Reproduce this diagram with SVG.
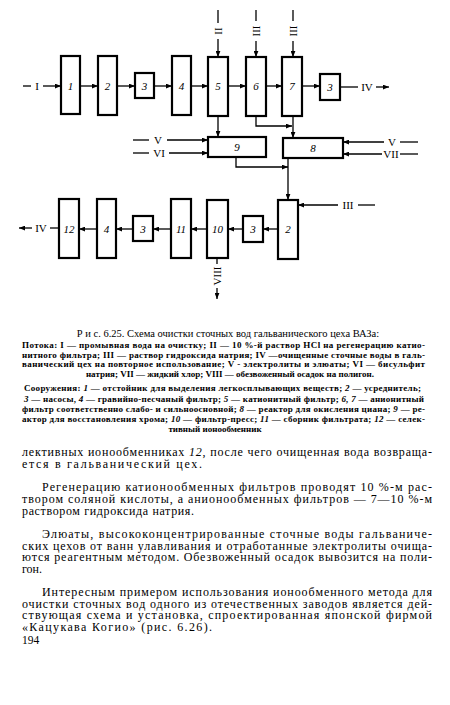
<svg xmlns="http://www.w3.org/2000/svg" width="450" height="705" viewBox="0 0 450 705">
<style>
.box{fill:#fff;stroke:#000;stroke-width:2.2}
.ln{fill:none;stroke:#000;stroke-width:1.3}
.num{font-family:"Liberation Serif",serif;font-style:italic;font-size:11px;text-anchor:middle;dominant-baseline:central}
.rom{font-family:"Liberation Serif",serif;font-size:11px;text-anchor:middle;dominant-baseline:central}
.cap{font-family:"Liberation Serif",serif;font-size:9px;font-weight:bold}
.body{font-family:"Liberation Serif",serif;font-size:12px}
.it{font-style:italic}
</style>
<defs>
<marker id="ar" viewBox="0 0 10 8" refX="10" refY="4" markerWidth="6" markerHeight="5" markerUnits="userSpaceOnUse" orient="auto">
<path d="M0,0 L10,4 L0,8 Z" fill="#000"/>
</marker>
</defs>
<rect width="450" height="705" fill="#fff"/>

<g id="connectors">
<line class="ln" x1="23" y1="86" x2="31" y2="86"/>
<text class="rom" x="37" y="86">I</text>
<line class="ln" x1="43" y1="86" x2="61" y2="86" marker-end="url(#ar)"/>
<line class="ln" x1="80" y1="86" x2="98" y2="86" marker-end="url(#ar)"/>
<line class="ln" x1="117" y1="86" x2="135" y2="86" marker-end="url(#ar)"/>
<line class="ln" x1="154" y1="86" x2="172" y2="86" marker-end="url(#ar)"/>
<line class="ln" x1="191" y1="86" x2="208" y2="86" marker-end="url(#ar)"/>
<line class="ln" x1="228" y1="86" x2="246" y2="86" marker-end="url(#ar)"/>
<line class="ln" x1="266" y1="86" x2="282" y2="86" marker-end="url(#ar)"/>
<line class="ln" x1="302" y1="86" x2="320" y2="86" marker-end="url(#ar)"/>
<line class="ln" x1="340" y1="87" x2="358" y2="87"/>
<text class="rom" x="367" y="87">IV</text>
<line class="ln" x1="376" y1="87" x2="389" y2="87" marker-end="url(#ar)"/>
<line class="ln" x1="218" y1="10" x2="218" y2="23"/>
<text class="rom" transform="translate(218,31) rotate(-90)">II</text>
<line class="ln" x1="218" y1="39" x2="218" y2="57" marker-end="url(#ar)"/>
<line class="ln" x1="256" y1="10" x2="256" y2="21"/>
<text class="rom" transform="translate(256,31) rotate(-90)">III</text>
<line class="ln" x1="256" y1="41" x2="256" y2="57" marker-end="url(#ar)"/>
<line class="ln" x1="293" y1="10" x2="293" y2="21"/>
<text class="rom" transform="translate(293,31) rotate(-90)">III</text>
<line class="ln" x1="293" y1="41" x2="293" y2="57" marker-end="url(#ar)"/>
<line class="ln" x1="218" y1="116" x2="218" y2="137" marker-end="url(#ar)"/>
<polyline class="ln" points="256,116 256,126 292,126" marker-end="url(#ar)"/>
<line class="ln" x1="293" y1="116" x2="293" y2="138" marker-end="url(#ar)"/>
<line class="ln" x1="133" y1="140" x2="149" y2="140"/>
<text class="rom" x="158" y="140">V</text>
<line class="ln" x1="167" y1="140" x2="208" y2="140" marker-end="url(#ar)"/>
<line class="ln" x1="133" y1="153" x2="149" y2="153"/>
<text class="rom" x="159" y="153">VI</text>
<line class="ln" x1="169" y1="153" x2="208" y2="153" marker-end="url(#ar)"/>
<line class="ln" x1="400" y1="142" x2="418" y2="142"/>
<text class="rom" x="392" y="142">V</text>
<line class="ln" x1="384" y1="142" x2="343" y2="142" marker-end="url(#ar)"/>
<line class="ln" x1="400" y1="154" x2="418" y2="154"/>
<text class="rom" x="391" y="154">VII</text>
<line class="ln" x1="382" y1="154" x2="343" y2="154" marker-end="url(#ar)"/>
<polyline class="ln" points="236,157 236,167 288,167" marker-end="url(#ar)"/>
<line class="ln" x1="288" y1="158" x2="288" y2="200" marker-end="url(#ar)"/>
<line class="ln" x1="358" y1="205" x2="375" y2="205"/>
<text class="rom" x="348" y="205">III</text>
<line class="ln" x1="338" y1="205" x2="298" y2="205" marker-end="url(#ar)"/>
<line class="ln" x1="278" y1="229" x2="263" y2="229" marker-end="url(#ar)"/>
<line class="ln" x1="243" y1="229" x2="228" y2="229" marker-end="url(#ar)"/>
<line class="ln" x1="207" y1="229" x2="191" y2="229" marker-end="url(#ar)"/>
<line class="ln" x1="171" y1="229" x2="153" y2="229" marker-end="url(#ar)"/>
<line class="ln" x1="133" y1="229" x2="116" y2="229" marker-end="url(#ar)"/>
<line class="ln" x1="97" y1="229" x2="79" y2="229" marker-end="url(#ar)"/>
<line class="ln" x1="59" y1="228" x2="50" y2="228"/>
<text class="rom" x="41" y="228">IV</text>
<line class="ln" x1="32" y1="228" x2="19" y2="228" marker-end="url(#ar)"/>
<line class="ln" x1="217" y1="258" x2="217" y2="264"/>
<text class="rom" transform="translate(217,276) rotate(-90)">VIII</text>
<line class="ln" x1="217" y1="288" x2="217" y2="299" marker-end="url(#ar)"/>
</g>

<g id="n1"><rect class="box" x="61" y="56" width="19" height="58"/><text class="num" x="70.5" y="86">1</text></g>
<g id="n2"><rect class="box" x="98" y="56" width="19" height="59"/><text class="num" x="107.5" y="86">2</text></g>
<g id="n3a"><rect class="box" x="135" y="73" width="19" height="25"/><text class="num" x="144.5" y="86">3</text></g>
<g id="n4a"><rect class="box" x="172" y="56" width="19" height="59"/><text class="num" x="181.5" y="86">4</text></g>
<g id="n5"><rect class="box" x="208" y="57" width="20" height="59"/><text class="num" x="218" y="86">5</text></g>
<g id="n6"><rect class="box" x="246" y="57" width="20" height="59"/><text class="num" x="256" y="86">6</text></g>
<g id="n7"><rect class="box" x="282" y="57" width="20" height="59"/><text class="num" x="292" y="86">7</text></g>
<g id="n3b"><rect class="box" x="320" y="74" width="20" height="26"/><text class="num" x="330" y="87">3</text></g>
<g id="n9"><rect class="box" x="208" y="137" width="58" height="20"/><text class="num" x="237" y="147">9</text></g>
<g id="n8"><rect class="box" x="283" y="138" width="60" height="20"/><text class="num" x="313" y="148">8</text></g>
<g id="n2b"><rect class="box" x="278" y="200" width="20" height="59"/><text class="num" x="288" y="229">2</text></g>
<g id="n3c"><rect class="box" x="243" y="216" width="20" height="26"/><text class="num" x="253" y="229">3</text></g>
<g id="n10"><rect class="box" x="207" y="200" width="21" height="58"/><text class="num" x="217.5" y="229">10</text></g>
<g id="n11"><rect class="box" x="171" y="199" width="20" height="59"/><text class="num" x="181" y="229">11</text></g>
<g id="n3d"><rect class="box" x="133" y="216" width="20" height="25"/><text class="num" x="143" y="229">3</text></g>
<g id="n4b"><rect class="box" x="97" y="199" width="19" height="59"/><text class="num" x="106.5" y="229">4</text></g>
<g id="n12"><rect class="box" x="59" y="199" width="20" height="59"/><text class="num" x="69" y="229">12</text></g>

<g id="caption" class="cap">
<text x="228" y="337" text-anchor="middle" font-size="10.5" font-weight="normal">Р и с. 6.25. Схема очистки сточных вод гальванического цеха ВАЗа:</text>
<text x="22" y="348" textLength="403" lengthAdjust="spacing">Потока: I — промывная вода на очистку; II — 10 %-й раствор HCl на регенерацию катио-</text>
<text x="22" y="357.5" textLength="403" lengthAdjust="spacing">нитного фильтра; III — раствор гидроксида натрия; IV —очищенные сточные воды в галь-</text>
<text x="22" y="367" textLength="403" lengthAdjust="spacing">ванический цех на повторное использование; V - электролиты и элюаты; VI — бисульфит</text>
<text x="230" y="376.5" text-anchor="middle">натрия; VII — жидкий хлор; VIII — обезвоженный осадок на полигон.</text>
<text x="24" y="391" textLength="397" lengthAdjust="spacing">Сооружения: <tspan class="it">1</tspan> — отстойник для выделения легкосплывающих веществ; <tspan class="it">2</tspan> — усреднитель;</text>
<text x="24" y="401.5" textLength="400" lengthAdjust="spacing"><tspan class="it">3</tspan> — насосы, <tspan class="it">4</tspan> — гравийно-песчаный фильтр; <tspan class="it">5</tspan> — катионитный фильтр; <tspan class="it">6, 7</tspan> — анионитный</text>
<text x="22" y="412" textLength="403" lengthAdjust="spacing">фильтр соответственно слабо- и сильноосновной; <tspan class="it">8</tspan> — реактор для окисления циана; <tspan class="it">9</tspan> — ре-</text>
<text x="22" y="422" textLength="403" lengthAdjust="spacing">актор для восстановления хрома; <tspan class="it">10</tspan> — фильтр-пресс; <tspan class="it">11</tspan> — сборник фильтрата; <tspan class="it">12</tspan> — селек-</text>
<text x="215" y="432" text-anchor="middle">тивный ионообменник</text>
</g>

<g id="body" class="body">
<text x="22" y="456" textLength="410" lengthAdjust="spacing">лективных ионообменниках <tspan class="it">12</tspan>, после чего очищенная вода возвраща-</text>
<text x="22" y="468" textLength="180" lengthAdjust="spacing">ется в гальванический цех.</text>
<text x="42" y="491" textLength="390" lengthAdjust="spacing">Регенерацию катионообменных фильтров проводят 10 %-м рас-</text>
<text x="22" y="503" textLength="410" lengthAdjust="spacing">твором соляной кислоты, а анионообменных фильтров — 7—10 %-м</text>
<text x="22" y="514.5" textLength="172" lengthAdjust="spacing">раствором гидроксида натрия.</text>
<text x="42" y="538" textLength="390" lengthAdjust="spacing">Элюаты, высококонцентрированные сточные воды гальваниче-</text>
<text x="22" y="549.5" textLength="410" lengthAdjust="spacing">ских цехов от ванн улавливания и отработанные электролиты очища-</text>
<text x="22" y="561" textLength="410" lengthAdjust="spacing">ются реагентным методом. Обезвоженный осадок вывозится на поли-</text>
<text x="22" y="572.5">гон.</text>
<text x="42" y="596" textLength="390" lengthAdjust="spacing">Интересным примером использования ионообменного метода для</text>
<text x="22" y="607.5" textLength="410" lengthAdjust="spacing">очистки сточных вод одного из отечественных заводов является дей-</text>
<text x="22" y="619" textLength="410" lengthAdjust="spacing">ствующая схема и установка, спроектированная японской фирмой</text>
<text x="22" y="630.5" textLength="190" lengthAdjust="spacing">«Кацукава Когио» (рис. 6.26).</text>
<text x="22" y="644" font-size="11.5">194</text>
</g>
</svg>
